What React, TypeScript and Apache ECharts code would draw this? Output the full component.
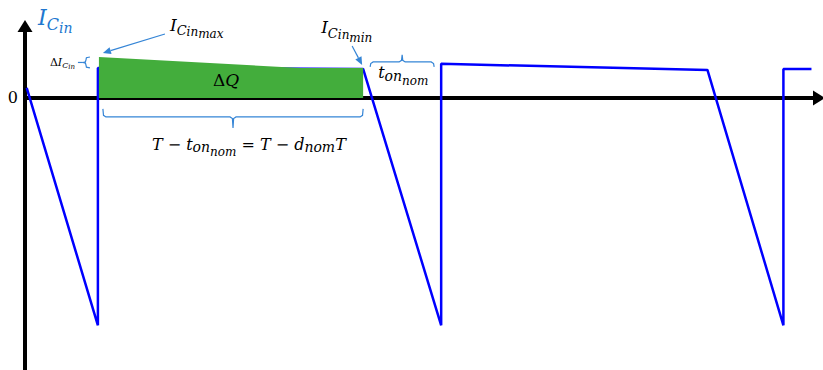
import React, { useEffect, useRef } from "react";
import * as echarts from "echarts";

// Capacitor current waveform: [time, current] vertices (arbitrary units, T ≈ 10)
const currentWave: [number, number][] = [
  [0.05, 0.35],
  [2.13, -8.0],
  [2.13, 1.055],
  [9.88, 1.02],
  [12.16, -8.0],
  [12.16, 1.2],
  [19.94, 0.985],
  [22.16, -8.0],
  [22.16, 1.02],
  [22.98, 1.02],
];

// Top edge of the charge area ΔQ during the off-time
const chargeTop: [number, number][] = [
  [2.16, 1.44],
  [8.04, 1.055],
  [9.88, 1.055],
];

// Axis extents
const X_MIN = 0;
const X_MAX = 23.2;
const Y_MIN = -9.57;
const Y_MAX = 2.53;
const yTickLabels = [0];

const WAVE_BLUE = "#0000ff";
const NOTE_BLUE = "#3585d6";
const LABEL_BLUE = "#2177cf";
const AREA_GREEN = "#43ad3c";
const MATH_FONT = "DejaVu Serif";

type Part = { t: string; f: number; b: number; upright?: boolean };

// Builds a rich text label whose parts sit on shifted baselines (sub/superscripts)
function mathLabel(parts: Part[], color: string) {
  const F = parts[0].f;
  const rich: Record<string, any> = {};
  let text = "";
  parts.forEach((p, i) => {
    const name = "p" + i;
    const pad = Math.max(0, 0.84 * F + p.b - 0.84 * p.f);
    rich[name] = {
      fontSize: p.f,
      lineHeight: p.f,
      fontFamily: MATH_FONT,
      fontStyle: p.upright ? "normal" : "italic",
      fill: color,
      color,
      verticalAlign: "top",
      padding: [pad, 0, 0, 0],
    };
    text += "{" + name + "|" + p.t + "}";
  });
  return { text, rich, F };
}

function textAt(parts: Part[], x: number, baseline: number, color = "#000") {
  const m = mathLabel(parts, color);
  return {
    type: "text",
    x,
    y: baseline - 0.84 * m.F,
    silent: true,
    z: 20,
    style: {
      text: m.text,
      rich: m.rich,
      align: "left",
      verticalAlign: "top",
      fill: color,
      font: `italic ${m.F}px "${MATH_FONT}"`,
    },
  };
}

function arrow(x1: number, y1: number, x2: number, y2: number) {
  const dx = x2 - x1;
  const dy = y2 - y1;
  const len = Math.hypot(dx, dy);
  const ux = dx / len;
  const uy = dy / len;
  const hl = 8;
  const hw = 3.5;
  const bx = x2 - ux * hl;
  const by = y2 - uy * hl;
  return [
    {
      type: "line",
      silent: true,
      z: 20,
      shape: { x1, y1, x2: bx, y2: by },
      style: { stroke: NOTE_BLUE, lineWidth: 1.2 },
    },
    {
      type: "polygon",
      silent: true,
      z: 20,
      shape: {
        points: [
          [x2, y2],
          [bx - uy * hw, by + ux * hw],
          [bx + uy * hw, by - ux * hw],
        ],
      },
      style: { fill: NOTE_BLUE },
    },
  ];
}

// Horizontal curly brace between xa and xb
function hBrace(xa: number, xb: number, yEnd: number, yBar: number, yTip: number) {
  const xm = (xa + xb) / 2;
  const s = Math.sign(yBar - yEnd);
  return {
    type: "polyline",
    silent: true,
    z: 20,
    shape: {
      points: [
        [xa, yEnd],
        [xa + 0.6, yBar - s * 1.6],
        [xa + 3, yBar],
        [xm - 3, yBar],
        [xm - 0.6, yBar + s * 1.6],
        [xm, yTip],
        [xm + 0.6, yBar + s * 1.6],
        [xm + 3, yBar],
        [xb - 3, yBar],
        [xb - 0.6, yBar - s * 1.6],
        [xb, yEnd],
      ],
    },
    style: { stroke: NOTE_BLUE, lineWidth: 1.2, fill: null },
  };
}

export default function App() {
  const ref = useRef<HTMLDivElement>(null);

  useEffect(() => {
    const chart = echarts.init(ref.current!, null, { renderer: "svg" });
    const axisLine = {
      show: true,
      onZero: true,
      symbol: ["none", "triangle"],
      symbolSize: [15, 12],
      lineStyle: { color: "#000", width: 4 },
    };
    chart.setOption({
      animation: false,
      backgroundColor: "#fff",
      grid: { left: 25, right: 4, top: 26, bottom: 0, containLabel: false },
      xAxis: {
        type: "value",
        min: X_MIN,
        max: X_MAX,
        axisLine,
        axisTick: { show: false },
        axisLabel: { show: false },
        splitLine: { show: false },
      },
      yAxis: {
        type: "value",
        min: Y_MIN,
        max: Y_MAX,
        axisLine,
        axisTick: { show: false },
        splitLine: { show: false },
        axisLabel: {
          customValues: yTickLabels,
          color: "#000",
          fontSize: 16,
          fontFamily: MATH_FONT,
          margin: 7,
          padding: [4, 0, 0, 0],
          showMinLabel: true,
          showMaxLabel: true,
        },
      },
      series: [
        {
          type: "line",
          data: currentWave,
          symbol: "none",
          z: 2,
          lineStyle: { color: WAVE_BLUE, width: 2.5 },
        },
        {
          type: "line",
          data: chargeTop,
          symbol: "none",
          z: 3,
          lineStyle: { width: 0, color: AREA_GREEN },
          areaStyle: { color: AREA_GREEN, opacity: 1 },
        },
      ],
    });

    const P = (t: number, i: number) =>
      chart.convertToPixel({ gridIndex: 0 }, [t, i]) as number[];

    const zeroY = P(0, 0)[1];
    const axisX = P(X_MIN, 0)[0];
    const offStart = P(currentWave[1][0], 0)[0];
    const offEnd = P(currentWave[3][0], 0)[0];
    const onEnd = P(currentWave[4][0], 0)[0];
    const pMax = P(chargeTop[0][0], chargeTop[0][1]);
    const pMin = P(currentWave[3][0], currentWave[3][1]);
    const pTop = P(currentWave[2][0], currentWave[2][1]);
    const gridTop = P(0, Y_MAX)[1];
    const midRipple = (pMax[1] + pTop[1]) / 2;

    const graphic: any[] = [
      // axis title
      textAt(
        [
          { t: "I", f: 22, b: 0 },
          { t: "C", f: 16, b: 5 },
          { t: "in", f: 14, b: 8 },
        ],
        axisX + 13,
        gridTop - 1,
        LABEL_BLUE
      ),
      // maximum current label + pointer
      textAt(
        [
          { t: "I", f: 17, b: 0 },
          { t: "C", f: 13, b: 4 },
          { t: "in", f: 12, b: 5.5 },
          { t: "max", f: 12, b: 7 },
        ],
        pMax[0] + 71,
        pMax[1] - 26
      ),
      ...arrow(pMax[0] + 66, pMax[1] - 23, pMax[0] + 4, pMax[1] - 4),
      // minimum current label + pointer
      textAt(
        [
          { t: "I", f: 17, b: 0 },
          { t: "C", f: 13, b: 4.5 },
          { t: "in", f: 12, b: 6 },
          { t: "min", f: 12, b: 9.5 },
        ],
        pMin[0] - 42,
        pMin[1] - 36
      ),
      ...arrow(pMin[0] - 11, pMin[1] - 23, pMin[0] - 1, pMin[1] - 4),
      // ripple ΔI brace
      textAt(
        [
          { t: "Δ", f: 11, b: 0, upright: true },
          { t: "I", f: 11, b: 0 },
          { t: "C", f: 8, b: 2 },
          { t: "in", f: 7, b: 3 },
        ],
        pMax[0] - 49,
        midRipple + 4,
        "#000"
      ),
      {
        type: "polyline",
        silent: true,
        z: 20,
        shape: {
          points: [
            [pMax[0] - 9, pMax[1]],
            [pMax[0] - 12.5, pMax[1] + 0.8],
            [pMax[0] - 13, pMax[1] + 3],
            [pMax[0] - 13.5, midRipple - 0.6],
            [pMax[0] - 16, midRipple],
            [pMax[0] - 13.5, midRipple + 0.6],
            [pMax[0] - 13, pTop[1] - 3],
            [pMax[0] - 12.5, pTop[1] - 0.8],
            [pMax[0] - 9, pTop[1]],
          ],
        },
        style: { stroke: NOTE_BLUE, lineWidth: 1.2, fill: null },
      },
      {
        type: "line",
        silent: true,
        z: 20,
        shape: { x1: pMax[0] - 21, y1: midRipple, x2: pMax[0] - 16, y2: midRipple },
        style: { stroke: NOTE_BLUE, lineWidth: 1.2 },
      },
      // charge area label
      textAt(
        [
          { t: "Δ", f: 17, b: 0, upright: true },
          { t: "Q", f: 17, b: 0 },
        ],
        offStart + 115,
        zeroY - 12
      ),
      // on-time brace and label
      hBrace(offEnd + 7, onEnd - 7, zeroY - 31, zeroY - 36, zeroY - 43),
      textAt(
        [
          { t: "t", f: 16, b: 0 },
          { t: "on", f: 14, b: 2.5 },
          { t: "nom", f: 12, b: 7 },
        ],
        offEnd + 15,
        zeroY - 20
      ),
      // off-time brace and label
      hBrace(offStart + 5, offEnd, zeroY + 11, zeroY + 19, zeroY + 30),
      textAt(
        [
          { t: "T − t", f: 16, b: 0 },
          { t: "on", f: 14, b: 2 },
          { t: "nom", f: 12, b: 6 },
          { t: " = T − d", f: 16, b: 0 },
          { t: "nom", f: 14, b: 2 },
          { t: "T", f: 16, b: 0 },
        ],
        offStart + 54,
        zeroY + 52
      ),
    ];

    chart.setOption({ graphic });

    return () => chart.dispose();
  }, []);

  return (
    <div
      ref={ref}
      style={{ position: "absolute", left: 0, top: 0, width: 823, height: 370 }}
    />
  );
}
